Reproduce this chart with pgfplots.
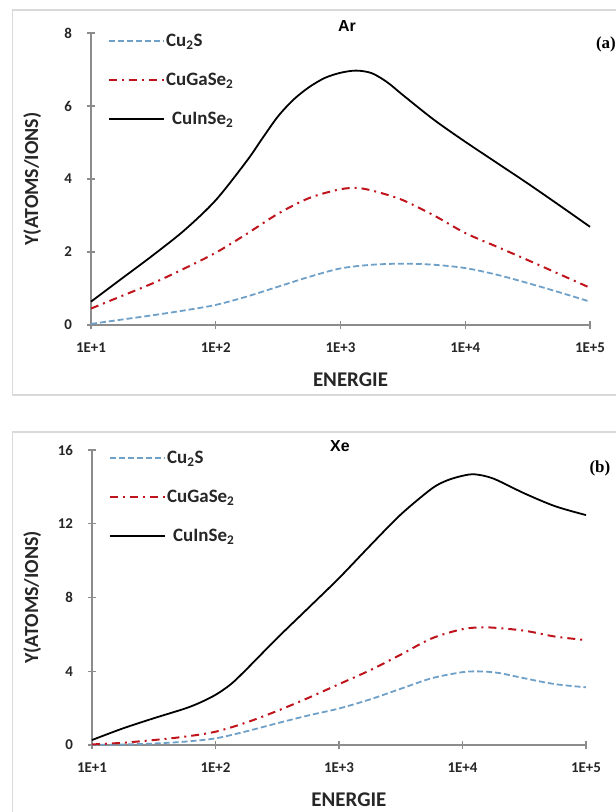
\documentclass[border=0pt]{standalone}
\usepackage{pgfplots}
\pgfplotsset{compat=1.18}
\usepackage{fontspec}
\setmainfont{Carlito}
\newfontfamily\timesf{Liberation Serif}
\newfontfamily\arialf{Liberation Sans}
\definecolor{cublue}{HTML}{6FA0C8}
\definecolor{cured}{HTML}{C0141C}
\definecolor{boxgray}{HTML}{D9D9D9}
\definecolor{axgray}{HTML}{8C8C8C}

% x values are log10(ENERGIE): 1 = 1E+1 ... 5 = 1E+5
\pgfplotsset{
  legend image code/.code={\draw[#1] (0bp,0bp) -- (55bp,0bp);},
  every axis/.append style={
    scale only axis, clip=false,
    xmin=1, xmax=5, xtick={1,2,3,4,5},
    xticklabels={1E+1,1E+2,1E+3,1E+4,1E+5},
    axis x line=bottom, axis y line=left,
    axis line style={-, axgray, line width=1.5pt},
    tick style={axgray, line width=1.2pt}, tick align=center, major tick length=9pt,
    ticklabel style={font=\fontsize{15}{17}\selectfont\bfseries, text=black!85},
    /pgf/number format/assume math mode=true,
    yticklabel style={xshift=-11pt},
    xticklabel style={yshift=-10pt},
    xlabel={ENERGIE}, ylabel={Y(ATOMS/IONS)},
    xlabel style={font=\fontsize{21}{24}\selectfont\bfseries, text=black!85},
    ylabel style={font=\fontsize{20}{23}\selectfont\bfseries, text=black!85},
    legend cell align=left,
    legend style={at={(axis description cs:0,1)}, anchor=north west,
      draw=none, fill=none, xshift=14bp, yshift=2bp,
      font=\fontsize{19}{22}\selectfont\bfseries,
      nodes={inner sep=1pt, text=black!85}, row sep=23bp},
  },
  cus/.style={cublue, line width=1.8pt, dash pattern=on 6pt off 3pt, smooth, tension=0.5},
  cga/.style={cured, line width=2pt, dash pattern=on 8pt off 5pt on 2pt off 5pt, smooth, tension=0.5},
  cin/.style={black, line width=1.8pt, smooth, tension=0.5},
}

\begin{document}
\begin{tikzpicture}
\useasboundingbox (0,0) rectangle (616bp,812bp);
\fill[white] (0,0) rectangle (616bp,812bp);
\draw[boxgray, line width=1.5pt] (630bp,417bp) -- (12.7bp,417bp) -- (12.7bp,802bp) -- (630bp,802bp);
\draw[boxgray, line width=1.5pt] (12.7bp,-10bp) -- (12.7bp,380bp) -- (630bp,380bp);

% ---------- (a) Ar ----------
\begin{axis}[at={(91bp,487bp)}, anchor=south west,
  width=499bp, height=292bp,
  ymin=0, ymax=8, ytick={0,2,4,6,8},
  xlabel style={at={(axis description cs:0.52,-0.188)}, anchor=center},
  ylabel style={at={(axis description cs:-0.118,0.5)}, anchor=center},
  title={Ar}, title style={at={(axis description cs:0.513,1)}, anchor=center, yshift=1bp,
    font=\arialf\bfseries\fontsize{16}{18}\selectfont}]
\addplot[cus] coordinates {(1.0,0.03) (1.25,0.15) (1.5,0.27) (1.75,0.4) (2.0,0.55) (2.25,0.78) (2.5,1.05) (2.75,1.32) (3.0,1.55) (3.25,1.65) (3.5,1.68) (3.75,1.65) (4.0,1.56) (4.25,1.38) (4.5,1.15) (4.75,0.9) (5.0,0.64)};
\addlegendentry{Cu\textsubscript{2}S}
\addplot[cga] coordinates {(1.0,0.45) (1.25,0.8) (1.5,1.15) (1.75,1.55) (2.0,1.98) (2.25,2.5) (2.5,3.05) (2.75,3.48) (3.0,3.72) (3.15,3.75) (3.3,3.64) (3.5,3.42) (3.75,3.0) (4.0,2.52) (4.25,2.15) (4.5,1.78) (4.75,1.4) (5.0,1.02)};
\addlegendentry{CuGaSe\textsubscript{2}}
\addplot[cin] coordinates {(1.0,0.64) (1.25,1.28) (1.5,1.92) (1.75,2.6) (2.0,3.42) (2.25,4.5) (2.375,5.12) (2.5,5.72) (2.625,6.18) (2.75,6.52) (2.875,6.77) (3.0,6.91) (3.125,6.97) (3.25,6.9) (3.375,6.65) (3.5,6.3) (3.75,5.62) (4.0,5.02) (4.25,4.45) (4.5,3.88) (4.75,3.29) (5.0,2.69)};
\addlegendentry{\hspace{6bp}CuInSe\textsubscript{2}}
\node[anchor=west, font=\timesf\bfseries\fontsize{17}{19}\selectfont] at (rel axis cs:1.005,0.96) {(a)};
\end{axis}

% ---------- (b) Xe ----------
\begin{axis}[at={(92bp,67bp)}, anchor=south west,
  width=494bp, height=295bp,
  ymin=0, ymax=16, ytick={0,4,8,12,16},
  xlabel style={at={(axis description cs:0.52,-0.186)}, anchor=center},
  ylabel style={at={(axis description cs:-0.121,0.5)}, anchor=center},
  title={Xe}, title style={at={(axis description cs:0.502,0.993)}, anchor=center,
    font=\arialf\bfseries\fontsize{16}{18}\selectfont}]
\addplot[cus] coordinates {(1.0,0.0) (1.25,0.03) (1.5,0.08) (1.75,0.18) (2.0,0.36) (2.25,0.74) (2.5,1.18) (2.75,1.6) (3.0,1.98) (3.25,2.47) (3.5,3.05) (3.75,3.62) (4.0,3.95) (4.15,3.99) (4.3,3.9) (4.5,3.62) (4.75,3.3) (5.0,3.13)};
\addlegendentry{Cu\textsubscript{2}S}
\addplot[cga] coordinates {(1.0,0.03) (1.25,0.12) (1.5,0.27) (1.75,0.45) (2.0,0.72) (2.25,1.22) (2.5,1.85) (2.75,2.55) (3.0,3.3) (3.25,4.05) (3.5,4.9) (3.75,5.78) (4.0,6.28) (4.2,6.38) (4.5,6.2) (4.75,5.88) (5.0,5.69)};
\addlegendentry{CuGaSe\textsubscript{2}}
\addplot[cin] coordinates {(1.0,0.27) (1.25,0.9) (1.5,1.45) (1.75,1.97) (1.875,2.3) (2.0,2.72) (2.125,3.3) (2.25,4.1) (2.5,5.8) (2.75,7.42) (3.0,9.05) (3.25,10.8) (3.5,12.5) (3.75,13.9) (3.875,14.35) (4.0,14.6) (4.1,14.68) (4.25,14.45) (4.5,13.65) (4.75,12.95) (5.0,12.47)};
\addlegendentry{\hspace{6bp}CuInSe\textsubscript{2}}
\node[anchor=west, font=\timesf\bfseries\fontsize{17}{19}\selectfont] at (rel axis cs:1.0,0.939) {(b)};
\end{axis}
\end{tikzpicture}
\end{document}
